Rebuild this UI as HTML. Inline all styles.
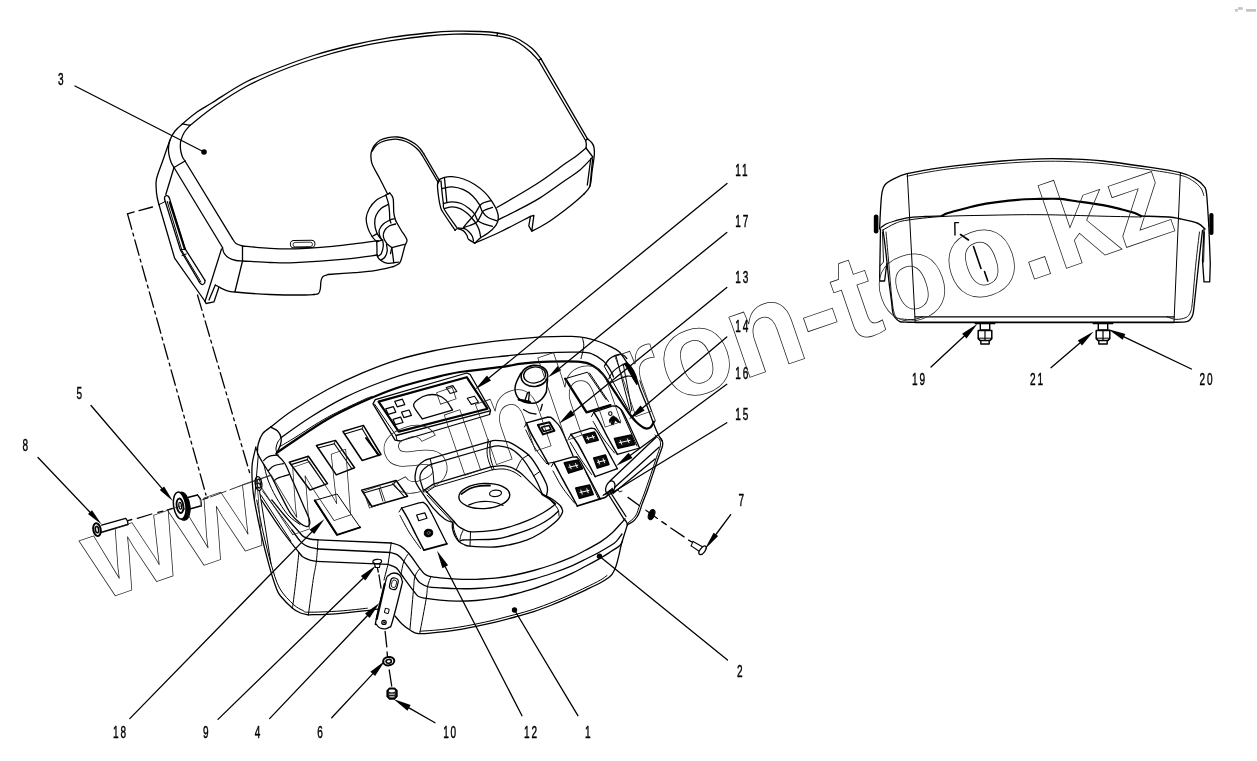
<!DOCTYPE html>
<html><head><meta charset="utf-8"><title>Parts diagram</title>
<style>
html,body{margin:0;padding:0;background:#fff;}
body{width:1257px;height:761px;overflow:hidden;position:relative;font-family:"Liberation Sans",sans-serif;}
svg{position:absolute;left:0;top:0;display:block;will-change:transform;}
svg path,svg ellipse,svg line,svg circle{stroke:#000;fill:none;stroke-linecap:round;stroke-linejoin:round;}
.lb{font-family:"Liberation Sans",sans-serif;font-size:16.2px;fill:#000;stroke:#000;stroke-width:0.45px;letter-spacing:2.9px;}
.wm{font-family:"Liberation Sans",sans-serif;font-weight:bold;fill:none;stroke:#222;stroke-width:0.75;}
</style></head><body>
<svg width="1257" height="761" viewBox="0 0 1257 761">
<path d="M182.5 123.8 C184.9 121.8 192 115.5 197 112 C202 108.5 204.5 107.4 212.5 102.5 C220.5 97.6 233.8 88.3 245 82.5 C256.2 76.7 268.3 72.1 280 67.5 C291.7 62.9 302.9 58.8 315 55 C327.1 51.2 340 47.9 352.5 45 C365 42.1 377.5 39.7 390 37.7 C402.5 35.7 416.7 34.1 427.5 33 C438.3 31.9 446.2 31.4 455 31.2 C463.8 30.9 472.9 31.2 480 31.5 C487.1 31.8 492.3 32.2 497.5 33 C502.7 33.8 507.2 34.8 511 36 C514.8 37.2 516.4 37.9 520 40 C523.6 42.1 529 45.7 532.5 48.8 C536 51.9 539.6 57.1 541 58.8" stroke-width="1.3" />
<path d="M541 58.8 L587.5 138.8" stroke-width="1.3" />
<path d="M587.5 138.8 C588.2 139.5 590.9 141.6 592 143 C593.1 144.4 593.6 145.5 594 147.5 C594.4 149.5 594.6 150.9 594.3 155 C594 159.1 592.7 166.8 592 172 C591.3 177.2 591.3 182.3 590 186 C588.7 189.7 585 192.7 584 194" stroke-width="1.3" />
<path d="M190 125.3 C194.2 122.1 205.5 112.5 215 106 C224.5 99.5 236.2 91.8 247 86 C257.8 80.2 268.7 75.6 280 71 C291.3 66.4 303 62.3 315 58.5 C327 54.7 339.5 51.2 352 48.2 C364.5 45.2 377.5 42.8 390 40.8 C402.5 38.8 416.2 37.1 427 36 C437.8 34.9 446.2 34.5 455 34.2 C463.8 33.9 473 34 480 34.3 C487 34.6 492 35.1 497 35.8 C502 36.5 506.3 37.4 510 38.6 C513.7 39.8 515.7 40.9 519 43 C522.3 45.1 526.8 48.6 530 51.5 C533.2 54.4 537.1 59 538.5 60.5" stroke-width="1.3" />
<path d="M538.5 60.5 L585.6 140.5" stroke-width="1.3" />
<path d="M585.6 140.5 C585.7 141.1 586.2 142.8 586.3 144 C586.4 145.2 586 147.3 586 148" stroke-width="1.3" />
<path d="M497.5 33 L497 35.8" stroke-width="1.3" />
<path d="M541 58.8 L538.5 60.5" stroke-width="1.3" />
<path d="M587.5 138.8 L585.6 140.5" stroke-width="1.3" />
<path d="M182.5 123.8 C181.2 125 177.1 128.3 175 131 C172.9 133.7 171.1 137.2 170 140 C168.9 142.8 168.7 145.5 168.5 148 C168.3 150.5 168.6 152.7 169 155 C169.4 157.3 170.2 159.9 171 162 C171.8 164.1 173.5 166.6 174 167.5" stroke-width="1.3" />
<path d="M190 125.3 C189.1 126.4 186 129.6 184.5 132 C183 134.4 181.7 137.7 181 140 C180.3 142.3 180.3 144 180.3 146 C180.3 148 180.6 150.2 181 152 C181.4 153.8 181.8 155.5 182.5 157 C183.2 158.5 184.6 160.3 185 161" stroke-width="1.3" />
<path d="M182.5 123.8 L190 125.3" stroke-width="1.3" />
<path d="M174 167.5 L185 161" stroke-width="1.3" />
<path d="M185 161 L232.5 238.8" stroke-width="1.3" />
<path d="M174 167.5 L222.5 247.5" stroke-width="1.3" />
<path d="M170 140 C168.8 143.3 165.2 153.5 163 160 C160.8 166.5 157.6 174 156.5 179 C155.4 184 156.2 186.8 156.3 190 C156.4 193.2 156.9 195.6 157.3 198 C157.8 200.4 158.7 203.6 159 204.7" stroke-width="1.3" />
<path d="M159 204.7 L174.6 258.1 L205.5 302" stroke-width="1.3" />
<path d="M174 167.5 L165.8 194.5" stroke-width="1.3" />
<path d="M159 204.7 L165 201.6" stroke-width="1.0" />
<path d="M221.5 249 L205 301.5" stroke-width="1.3" />
<path d="M205 301.5 L206 303.5 L214 301.8 L219 287" stroke-width="1.3" />
<path d="M215.3 285 L209 300" stroke-width="1.3" />
<path d="M232.5 238.8 C233.1 239.6 234.3 242.3 236 243.5 C237.7 244.7 241.4 245.6 242.5 246" stroke-width="1.3" />
<path d="M222.5 247.5 C222.8 248.4 222.9 251.2 224 253 C225.1 254.8 227 256.8 229 258 C231 259.2 233.8 260 236 260.5 C238.2 261 241.4 260.9 242.5 261" stroke-width="1.3" />
<path d="M242.5 246 L242.5 261 L235 291.5" stroke-width="1.3" />
<path d="M242.5 246 C247.1 246.4 261.2 247.8 270 248.3 C278.8 248.8 284.6 249.1 295 248.8 C305.4 248.5 321.7 247.2 332.5 246.3 C343.3 245.4 352.4 244.1 360 243.2 C367.6 242.2 375 241 378 240.6" stroke-width="1.3" />
<path d="M242.5 261 C247.1 261.2 261.2 262.2 270 262.5 C278.8 262.8 282.5 263.2 295 262.7 C307.5 262.1 331.2 260.5 345 259.2 C358.8 257.9 372.1 255.7 377.5 255" stroke-width="1.3" />
<path d="M215.3 285 C215.9 285.3 217.2 286.1 219 287 C220.8 287.9 223.3 289.5 226 290.3 C228.7 291.1 227.7 291.3 235 292 C242.3 292.7 258.3 294 270 294.5 C281.7 295 297.7 295 305 295 C312.3 295 312.5 294.6 314 294.5" stroke-width="1.3" />
<path d="M314 294.5 C314.8 294.3 317.4 294.4 318.5 293.5 C319.6 292.6 319.9 291.1 320.3 289 C320.7 286.9 320.6 283.1 321 281 C321.4 278.9 321.8 277.6 323 276.5 C324.2 275.4 327.2 274.8 328 274.5" stroke-width="1.3" />
<path d="M328 274.5 C332.5 274.2 347.2 273.2 355 272.6 C362.8 272 368.3 271.7 374.7 270.7 C381.1 269.7 390 267.4 393.1 266.7" stroke-width="1.3" />
<path d="M164.5 199 C164.6 198.6 164.5 197.4 164.8 196.8 C165.1 196.2 165.8 195.8 166.4 195.7 C167 195.6 167.8 195.9 168.3 196.3 C168.8 196.7 169.2 197.8 169.4 198.1" stroke-width="1.3" />
<path d="M164.5 199 L180.4 249.9 L199.3 281.9" stroke-width="1.3" />
<path d="M199.3 281.9 C199.6 282.2 200.4 283.6 201 284 C201.6 284.4 202.2 284.7 202.8 284.5 C203.4 284.3 204.2 283.7 204.6 283 C205 282.3 204.9 280.8 205 280.3" stroke-width="1.3" />
<path d="M205 280.3 L185.3 249.1 L169.4 198.1" stroke-width="1.3" />
<path d="M167.2 201.4 L182 250.7 L200.9 281.9" stroke-width="1.0" />
<path d="M169.7 202.2 L184.8 249.1" stroke-width="2.0" />
<path d="M180.4 249.9 L185.3 249.1" stroke-width="1.0" />
<path d="M182 255.5 L186.3 254" stroke-width="1.0" />
<rect x="290.3" y="240.3" width="24.7" height="7.4" rx="3.7" stroke="#000" fill="none" stroke-width="1" transform="rotate(-1 302 244)"/>
<rect x="293" y="242.3" width="19.5" height="4.4" rx="2.2" stroke="#000" fill="none" stroke-width="0.8" transform="rotate(-1 302 244)"/>
<path d="M387.5 193.8 C386.2 191.3 382.5 183.8 380 179 C377.5 174.2 374 168.5 372.5 165 C371 161.5 371.2 160.1 371 158 C370.8 155.9 370.7 154.5 371.2 152.5 C371.7 150.5 372.5 148 374 146 C375.5 144 377.7 141.7 380 140.3 C382.3 138.9 385.1 138.2 388 137.6 C390.9 137 394.3 136.7 397.5 137 C400.7 137.3 404.1 138.2 407 139.3 C409.9 140.4 412.8 142.3 415 143.8 C417.2 145.3 418.5 146.8 420 148.5 C421.5 150.2 423.2 152.9 423.8 153.8" stroke-width="1.3" />
<path d="M423.8 153.8 L440 181.5" stroke-width="1.3" />
<path d="M372.3 151 C372.9 150.1 374.5 147 376 145.5 C377.5 144 379.3 142.9 381.5 142 C383.7 141.1 386.3 140.2 389 139.8 C391.7 139.4 394.7 139 397.5 139.3 C400.3 139.6 403.3 140.4 406 141.5 C408.7 142.6 411.4 144.3 413.5 145.8 C415.6 147.3 417 148.7 418.5 150.3 C420 151.9 421.7 154.6 422.3 155.5" stroke-width="1.3" />
<path d="M422.3 155.5 L438.5 182.8" stroke-width="1.3" />
<path d="M439.5 179.5 C439.2 180.4 437.6 182.1 437.5 185 C437.4 187.9 438.1 193.3 438.6 197 C439.1 200.7 439.8 204.7 440.6 207.4 C441.4 210.1 441 209.2 443.4 213 C445.8 216.8 453.2 227.4 455.1 230.3" stroke-width="1.3" />
<path d="M441 181 C441.1 182.5 441.4 186.2 441.8 190 C442.2 193.8 442.9 200.2 443.4 203.5 C443.8 206.8 442.3 205.7 444.5 209.7 C446.7 213.7 454.8 224.5 456.8 227.5" stroke-width="1.3" />
<path d="M439.5 179.5 C440.3 179.1 442.4 177.8 444.5 177.3 C446.6 176.8 449.1 176.4 452.3 176.7 C455.5 177 459.8 177.7 463.5 179 C467.2 180.3 471.2 182.3 474.7 184.5 C478.2 186.7 481.9 189.7 484.7 192.4 C487.5 195.1 489.3 197.6 491.4 200.7 C493.4 203.8 495.9 207.8 497 210.8 C498.1 213.8 498.5 216.2 498.3 218.6 C498.1 221 497.6 222.9 495.9 225.3 C494.2 227.7 490.6 231.1 488.1 233.1 C485.6 235.1 483 235.9 480.8 237.6 C478.6 239.3 475.7 242.3 474.7 243.2" stroke-width="1.3" />
<path d="M442.3 188.5 C444 188.2 448.8 186.6 452.3 186.8 C455.8 187 460.1 188.1 463.5 189.6 C466.9 191.1 469.8 193.3 472.4 195.7 C475 198.1 477.4 201.4 479.1 204.1 C480.8 206.8 481 209.7 482.5 211.9 C484 214.1 485.7 216 488.1 217.5 C490.5 219 495.5 220.2 497 220.8" stroke-width="1.3" />
<path d="M443.4 203.5 C444.9 203.2 449.3 201.9 452.3 201.9 C455.3 201.9 458.5 202.4 461.3 203.5 C464.1 204.6 466.9 206.8 469.1 208.6 C471.3 210.4 473.2 212.1 474.7 214.1 C476.2 216.1 476.3 219.1 478 220.8 C479.7 222.5 482.3 223.3 484.7 224.2 C487.1 225.1 491.2 226 492.5 226.4" stroke-width="1.3" />
<path d="M444.5 208.6 C445.8 208.3 449.7 206.9 452.3 206.9 C454.9 206.9 457.8 207.6 460.2 208.6 C462.6 209.6 465 211.5 466.9 213 C468.8 214.5 469.8 215.8 471.3 217.5 C472.8 219.2 474.5 221 475.8 223.1 C477.1 225.2 478.3 227.4 479.1 229.8 C479.9 232.2 480.5 236.3 480.8 237.6" stroke-width="1.3" />
<path d="M444.5 178.4 L446.8 201.9" stroke-width="1.3" />
<path d="M491 200.7 C489.4 201.3 484.1 201.9 481.4 204.1 C478.7 206.3 477.1 210.9 474.7 214.1 C472.3 217.3 468.8 220.9 466.9 223.1 C465 225.3 464.1 226.8 463.5 227.5" stroke-width="1.3" />
<path d="M492.5 207.4 C491 208 485.6 209.3 483.6 210.8 C481.6 212.3 481.4 214.6 480.3 216.4 C479.2 218.2 478.6 220.4 476.9 221.9 C475.2 223.4 472.2 224.6 470 225.5 C467.8 226.4 464.6 227.2 463.5 227.5" stroke-width="1.3" />
<path d="M455.1 230.3 C455.5 230 456 228.5 457.4 228.6 C458.8 228.7 461.9 229.8 463.5 230.9 C465.1 232 466.1 233.9 466.9 235.3 C467.7 236.7 467.2 238 468.5 239.3 C469.8 240.6 473.7 242.5 474.7 243.2" stroke-width="1.3" />
<path d="M458 228 C459.1 228.1 462.8 228 464.6 228.7 C466.5 229.4 467.8 230.7 469.1 232 C470.4 233.3 471.7 235 472.4 236.5 C473.1 238 473.3 240.2 473.5 241" stroke-width="1.3" />
<path d="M387.5 193.8 L389.8 193.1" stroke-width="1.3" />
<path d="M389.8 193.1 C390.4 194 392.4 195.1 393.1 198.4 C393.8 201.7 393.4 209.2 393.8 212.9 C394.2 216.6 395.4 219.4 395.7 220.7" stroke-width="1.3" />
<path d="M395.7 220.7 C396.6 222.2 399.1 226.8 401 230 C402.9 233.2 406.2 237.2 406.9 239.8 C407.5 242.4 405.9 242.3 404.9 245.7 C403.9 249.1 402.1 257.1 401 260.2 C399.9 263.3 399.7 263 398.4 264.1 C397.1 265.2 394 266.3 393.1 266.7" stroke-width="1.3" />
<path d="M385.9 195.1 C386.3 196.5 387.9 200.9 388.5 203.7 C389.1 206.5 389.3 209.4 389.5 212 C389.7 214.6 389.6 217.6 389.8 219.4 C390.1 221.2 390.8 222.4 391 223" stroke-width="1.3" />
<path d="M389.8 193.1 C389.1 193.4 388.2 193.9 385.9 195.1 C383.6 196.3 378.7 198.2 376 200.4 C373.3 202.6 371.1 205.4 369.5 208.3 C367.9 211.2 366.4 214.7 366.2 218.1 C366 221.5 367.1 225.5 368.1 228.6 C369.1 231.7 370.7 234.3 372.1 236.5 C373.5 238.7 375.9 240.9 376.7 241.8" stroke-width="1.3" />
<path d="M388.5 204.3 C387.3 205 383.4 206.4 381.3 208.3 C379.2 210.2 377.1 213 376 215.5 C374.9 218 374.6 220.6 374.7 223.4 C374.8 226.2 375.8 230.2 376.7 232.6 C377.6 235 379 236.5 380 237.8 C381 239.1 382.2 240 382.6 240.4" stroke-width="1.3" />
<path d="M394.4 218.8 C393.6 219 391.6 219.2 389.8 220.1 C388 221 385.1 222.4 383.3 224 C381.6 225.6 379.9 228.1 379.3 229.9 C378.7 231.7 379.2 233.5 379.5 235 C379.8 236.5 381 238.4 381.3 239.1" stroke-width="1.3" />
<path d="M395.7 224 C394.6 224.3 391 224.9 389.2 226 C387.4 227.1 385.6 228.8 384.6 230.6 C383.6 232.3 383 234.4 383.3 236.5 C383.6 238.6 385.1 241.2 386.5 243.1 C387.9 245 390.9 246.9 391.8 247.7" stroke-width="1.3" />
<path d="M391.8 247.7 L404.3 244.4" stroke-width="1.3" />
<path d="M391.8 247.7 L393.8 262.8" stroke-width="1.3" />
<path d="M372.1 236.5 L376.7 233.9" stroke-width="1.3" />
<path d="M376.7 241.8 L382.6 239.8" stroke-width="1.3" />
<path d="M376.7 241.8 C376.8 243 376.9 246.6 377 249 C377.1 251.4 376.6 254.2 377.3 256.2 C378 258.2 379.5 259.6 381.3 260.8 C383.1 262 385 263.2 387.9 263.4 C390.8 263.6 396.6 262.3 398.4 262.1" stroke-width="1.3" />
<path d="M382.6 240.4 C382.7 241.3 383.5 243.5 383.3 245.7 C383.1 247.9 382.2 251.8 381.3 253.6 C380.4 255.3 378.6 255.8 378 256.2" stroke-width="1.3" />
<path d="M386.5 244.4 C386.6 245.5 387.5 248.8 387.2 251 C386.9 253.2 385.7 256 384.6 257.5 C383.5 259 381.3 259.8 380.6 260.2" stroke-width="1.3" />
<path d="M391.8 247.7 L390.5 253.6" stroke-width="1.3" />
<path d="M378 240.6 L377 241.3" stroke-width="1.3" />
<path d="M586 148 C584.2 149.5 578.5 154.4 575 157 C571.5 159.6 570.8 159.7 565 163.8 C559.2 167.9 548.3 176.2 540 181.7 C531.7 187.2 522.2 192.7 515 197 C507.8 201.3 500 205.7 497 207.4" stroke-width="1.3" />
<path d="M592.8 157 C590.7 159.2 584.6 166.1 580 170 C575.4 173.9 571.7 175.8 565 180.5 C558.3 185.2 548.3 192.7 540 197.9 C531.7 203.1 522 207.9 515 211.5 C508.1 215.1 501.1 218.3 498.3 219.7" stroke-width="1.3" />
<path d="M474.7 243.2 C478.9 241.3 490.7 236.5 500 232 C509.3 227.5 525.4 219 530.5 216.4" stroke-width="1.3" />
<path d="M530.5 216.4 L533.9 215.3 L531.8 231.1 L528.8 225.9 Z" stroke-width="1.3" />
<path d="M531.8 231.1 C533.2 230.4 537 228.7 540 227 C543 225.3 545.8 223.8 550 221 C554.2 218.2 560.8 213.2 565 210 C569.2 206.8 571.8 204.7 575 202 C578.2 199.3 582.5 195.3 584 194" stroke-width="1.3" />
<path d="M590.8 158.5 L587.3 185" stroke-width="1.3" />
<path d="M592.6 159 L590 186" stroke-width="1.3" />
<path d="M586 148 L592.8 157" stroke-width="1.3" />
<path d="M75 86 L204 152" stroke-width="1.3" />
<circle cx="204" cy="152" r="2.8" fill="#000" stroke="none" style="fill:#000;stroke:none"/>
<path d="M152.5 207 L127.5 213.8" stroke-width="1.3" stroke-dasharray="14 5"/>
<path d="M127.5 213.8 L206 495" stroke-width="1.3" stroke-dasharray="16 4 3 4"/>
<path d="M197.5 295 L250 474" stroke-width="1.3" stroke-dasharray="16 4 3 4"/>
<path d="M879.6 229 C879.8 225.8 880.1 216.1 880.5 210 C880.9 203.9 881.2 196.8 882 192.6 C882.8 188.4 882.9 187.1 885 184.7 C887.1 182.3 891 180.2 894.7 178.4 C898.4 176.6 901.1 175.2 907 173.7 C912.9 172.2 922.1 170.6 930 169.3 C937.9 168 942.6 167.2 954.6 165.8 C966.6 164.4 987.8 162.2 1002 161 C1016.2 159.8 1028.7 159.1 1040 158.8 C1051.3 158.5 1059.5 158.6 1070 159 C1080.5 159.4 1089.6 159.6 1103 161 C1116.4 162.4 1137.5 165.5 1150.4 167.4 C1163.3 169.3 1173 170.9 1180.4 172.7 C1187.8 174.5 1190.7 176.1 1194.6 178.4 C1198.5 180.7 1202 183.7 1204 186.3 C1206 188.9 1205.8 187.6 1206.6 194.2 C1207.4 200.8 1208.4 220.4 1208.8 225.7" stroke-width="1.3" />
<path d="M907 176.2 C910.8 175.5 922.1 173.1 930 171.8 C937.9 170.5 942.6 169.6 954.6 168.2 C966.6 166.8 987.8 164.6 1002 163.5 C1016.2 162.4 1028.7 161.7 1040 161.4 C1051.3 161.1 1059.5 161.2 1070 161.6 C1080.5 162 1089.6 162.2 1103 163.6 C1116.4 165 1137.5 168 1150.4 169.9 C1163.3 171.8 1173.4 173.4 1180.4 175.2 C1187.4 177 1189.1 178.5 1192.5 180.6 C1195.9 182.7 1198.9 185.5 1200.8 188 C1202.7 190.5 1203.3 194.2 1203.8 195.5" stroke-width="0.9" />
<path d="M1208.8 225.7 L1210.3 263.6 L1209.7 281.9 L1204 281.9 L1202.5 260.4 L1204 229" stroke-width="1.3" />
<path d="M907.3 173.7 L915.2 322.5" stroke-width="1.0" />
<path d="M1180.4 172.7 L1174 322.5" stroke-width="1.0" />
<path d="M881 227.5 C881.8 226.9 883.7 225.1 886 224 C888.3 222.9 891.2 222 894.7 221 C898.2 220 902 218.6 907 217.8 C912 217.1 919.2 216.8 925 216.5 C930.8 216.2 939.2 215.9 942 215.8" stroke-width="1.3" />
<path d="M942 215.8 C943 215.3 944.2 214.2 948 213 C951.8 211.8 958.7 210.1 965 208.5 C971.3 206.9 977.2 205 986 203.6 C994.8 202.2 1008.7 200.6 1017.7 199.8 C1026.7 199 1033 199.1 1040 198.9 C1047 198.8 1054.8 198.6 1060 198.9 C1065.2 199.2 1064.3 199.4 1071.5 200.5 C1078.7 201.6 1094.6 203.7 1103 205.2 C1111.4 206.7 1116.7 208.2 1122 209.5 C1127.3 210.8 1131.4 211.9 1134.6 213 C1137.8 214.1 1139.9 215.5 1141 216" stroke-width="2.2" />
<path d="M1141 216 C1145.7 216.2 1162.5 216.5 1169 217 C1175.5 217.5 1175.2 217.8 1180 218.8 C1184.8 219.8 1193.5 221.5 1197.7 223.2 C1201.9 224.9 1203.8 228 1205 229" stroke-width="1.5" />
<path d="M883 230 C885 228.9 891 225.1 895 223.5 C899 221.9 899.2 221.4 907 220.2 C914.8 219 928.8 217.3 942 216.5 C955.2 215.7 969.7 215.6 986 215.3 C1002.3 215 1020.5 214.5 1040 214.7 C1059.5 214.8 1086.2 215.8 1103 216.2 C1119.8 216.6 1134.7 216.9 1141 217" stroke-width="1.0" />
<rect x="873.8" y="214.5" width="4.6" height="19" rx="2.2" style="fill:#000;stroke:none"/>
<rect x="1209.3" y="213" width="4.2" height="22" rx="2" style="fill:#000;stroke:none"/>
<path d="M883 230 C883.3 232.5 884.4 239.9 885 245 C885.6 250.1 886.1 254.2 886.8 260.4 C887.5 266.6 888.2 275.2 889 282 C889.8 288.8 890.9 296.5 891.5 301.4 C892.1 306.3 892.2 309.1 892.6 311.5 C893 313.9 893.4 314.8 894 316 C894.6 317.2 895.5 318.1 896.3 318.9 C897 319.7 897.6 320.3 898.5 320.8 C899.4 321.3 899.9 321.8 901.5 322 C903.1 322.2 905.8 322.2 908 322.3 C910.2 322.4 913.8 322.3 915 322.3" stroke-width="1.3" />
<path d="M915 322.3 L1174 322.3" stroke-width="1.7" />
<path d="M915 316.8 L1174.3 316.8" stroke-width="1.3" />
<path d="M1174 322.3 C1176.1 322.2 1184 322.2 1186.7 321.6 C1189.5 321.1 1189.5 320.3 1190.5 319 C1191.5 317.7 1192.3 316.9 1193 314 C1193.7 311.1 1193.6 310.3 1194.6 301.4 C1195.6 292.5 1197.7 272.2 1199 260.4 C1200.3 248.6 1201.9 235.4 1202.5 230.4" stroke-width="1.3" />
<path d="M886 232 C886.4 236.7 887.5 248.7 888.5 260 C889.5 271.3 890.9 290.7 892 300 C893.1 309.3 893.6 312.6 895.2 315.7 C896.8 318.8 898.4 318.3 901.5 318.9 C904.6 319.5 910.5 319.8 914 319.4 C917.5 319 921.1 317.2 922.5 316.8" stroke-width="0.9" />
<path d="M1199.5 232 C1198.9 237 1197.2 250.5 1196 262 C1194.8 273.5 1193.4 292.7 1192.5 301 C1191.6 309.3 1191.6 309.2 1190.5 312 C1189.4 314.8 1188.4 316.3 1186 317.5 C1183.6 318.7 1179.2 319.5 1176 319.4 C1172.8 319.3 1168.5 317.2 1167 316.8" stroke-width="0.9" />
<path d="M880.5 229 L879.6 281 L884.6 281 L886.8 263.6" stroke-width="1.3" />
<path d="M882.5 232 L883.5 262 L880 266" stroke-width="0.9" />
<path d="M1204.5 232 L1203.6 262" stroke-width="0.9" />
<path d="M955 235 L954.8 222.6 L958.5 222.6" stroke-width="1.4" />
<path d="M960.5 234.5 L968.5 240" stroke-width="1.6" />
<path d="M973.5 246.5 L981 268.5" stroke-width="1.6" />
<path d="M984.5 271.5 L987.8 281" stroke-width="1.6" />
<path d="M975.5 323.4 L994.5 323.4" stroke-width="1.8" />
<path d="M980.3 324 L980.3 330 L989.7 330 L989.7 324" stroke-width="1.4" />
<path d="M978.2 330.4 L991.8 330.4 L991.8 338.6 L990 340.4 L980 340.4 L978.2 338.6 Z" stroke-width="1.5" />
<path d="M985 330.4 L985 340" stroke-width="1.2" />
<path d="M978.2 338.2 L991.8 338.2" stroke-width="1.0" />
<path d="M980.8 340.6 L980.8 344 L989.2 344 L989.2 340.6" stroke-width="1.4" />
<path d="M1093.5 323.4 L1112.5 323.4" stroke-width="1.8" />
<path d="M1098.3 324 L1098.3 330 L1107.7 330 L1107.7 324" stroke-width="1.4" />
<path d="M1096.2 330.4 L1109.8 330.4 L1109.8 338.6 L1108 340.4 L1098 340.4 L1096.2 338.6 Z" stroke-width="1.5" />
<path d="M1103 330.4 L1103 340" stroke-width="1.2" />
<path d="M1096.2 338.2 L1109.8 338.2" stroke-width="1.0" />
<path d="M1098.8 340.6 L1098.8 344 L1107.2 344 L1107.2 340.6" stroke-width="1.4" />
<path d="M931 367 L964.3 336.1" stroke-width="1.3" />
<path d="M977.5 323.8 L966.5 338.4 L962.1 333.7 Z" style="fill:#000;stroke:none"/>
<path d="M1051 367.7 L1079.9 343.1" stroke-width="1.3" />
<path d="M1093.6 331.4 L1082 345.5 L1077.8 340.6 Z" style="fill:#000;stroke:none"/>
<path d="M1191.4 369 L1124 336.8" stroke-width="1.3" />
<path d="M1107.8 329 L1125.4 333.9 L1122.7 339.7 Z" style="fill:#000;stroke:none"/>
<text x="0" y="0" transform="translate(58 85) scale(0.62 1)" class="lb">3</text>
<text x="0" y="0" transform="translate(735.3 176) scale(0.62 1)" class="lb">11</text>
<text x="0" y="0" transform="translate(735.3 227) scale(0.62 1)" class="lb">17</text>
<text x="0" y="0" transform="translate(735.3 282.5) scale(0.62 1)" class="lb">13</text>
<text x="0" y="0" transform="translate(735.3 332) scale(0.62 1)" class="lb">14</text>
<text x="0" y="0" transform="translate(735.3 379) scale(0.62 1)" class="lb">16</text>
<text x="0" y="0" transform="translate(735.3 420) scale(0.62 1)" class="lb">15</text>
<text x="0" y="0" transform="translate(738.5 506) scale(0.62 1)" class="lb">7</text>
<text x="0" y="0" transform="translate(737 677) scale(0.62 1)" class="lb">2</text>
<text x="0" y="0" transform="translate(912 384.5) scale(0.62 1)" class="lb">19</text>
<text x="0" y="0" transform="translate(1030 384.5) scale(0.62 1)" class="lb">21</text>
<text x="0" y="0" transform="translate(1199.5 384.5) scale(0.62 1)" class="lb">20</text>
<text x="0" y="0" transform="translate(76.5 398.5) scale(0.62 1)" class="lb">5</text>
<text x="0" y="0" transform="translate(22.5 450.5) scale(0.62 1)" class="lb">8</text>
<text x="0" y="0" transform="translate(113 737.9) scale(0.62 1)" class="lb">18</text>
<text x="0" y="0" transform="translate(203 737.9) scale(0.62 1)" class="lb">9</text>
<text x="0" y="0" transform="translate(254.7 737.9) scale(0.62 1)" class="lb">4</text>
<text x="0" y="0" transform="translate(317.3 737.9) scale(0.62 1)" class="lb">6</text>
<text x="0" y="0" transform="translate(443.2 737.9) scale(0.62 1)" class="lb">10</text>
<text x="0" y="0" transform="translate(524 737.9) scale(0.62 1)" class="lb">12</text>
<text x="0" y="0" transform="translate(585 737.9) scale(0.62 1)" class="lb">1</text>
<path d="M727 183.4 L488.9 378.1" stroke-width="1.3" />
<path d="M475 389.5 L486.9 375.6 L491 380.6 Z" style="fill:#000;stroke:none"/>
<path d="M726.8 232.5 L559.5 368.2" stroke-width="1.3" />
<path d="M547.8 377.6 L557.7 366 L561.2 370.3 Z" style="fill:#000;stroke:none"/>
<path d="M726.8 287.5 L572.8 412.5" stroke-width="1.3" />
<path d="M558.8 423.8 L570.8 410 L574.8 414.9 Z" style="fill:#000;stroke:none"/>
<path d="M726.8 337 L642.6 407.9" stroke-width="1.3" />
<path d="M628.8 419.5 L640.5 405.5 L644.6 410.4 Z" style="fill:#000;stroke:none"/>
<path d="M726.8 384.3 L630.5 455.3" stroke-width="1.3" />
<path d="M616 466 L628.6 452.7 L632.4 457.9 Z" style="fill:#000;stroke:none"/>
<path d="M726.8 422.7 L612.5 492.5" stroke-width="1.3" />
<path d="M730.7 514.6 L715.9 534.5" stroke-width="1.3" />
<path d="M704.5 549.7 L713.6 532.8 L718.1 536.1 Z" style="fill:#000;stroke:none"/>
<path d="M599.5 556.2 L727.5 660" stroke-width="1.3" />
<circle cx="599.5" cy="556.2" r="2.7" style="fill:#000;stroke:none"/>
<path d="M514.5 610 L577.9 715.7" stroke-width="1.3" />
<circle cx="514.5" cy="610" r="2.7" style="fill:#000;stroke:none"/>
<path d="M522 715.7 L445.2 566.7" stroke-width="1.3" />
<path d="M437 550.7 L448.1 565.2 L442.4 568.2 Z" style="fill:#000;stroke:none"/>
<path d="M435 722.7 L409 707.9" stroke-width="1.3" />
<path d="M393.4 699 L410.6 705.1 L407.5 710.7 Z" style="fill:#000;stroke:none"/>
<path d="M331.7 717.8 L372.7 673.9" stroke-width="1.3" />
<path d="M385 660.7 L375.1 676 L370.4 671.7 Z" style="fill:#000;stroke:none"/>
<path d="M269.6 718.6 L367.3 615.8" stroke-width="1.3" />
<path d="M379.7 602.7 L369.6 618 L365 613.5 Z" style="fill:#000;stroke:none"/>
<path d="M218 719.4 L363.1 578.2" stroke-width="1.3" />
<path d="M376 565.6 L365.3 580.4 L360.9 575.9 Z" style="fill:#000;stroke:none"/>
<path d="M129.8 718.6 L311.9 531.9" stroke-width="1.3" />
<path d="M324.5 519 L314.2 534.1 L309.6 529.7 Z" style="fill:#000;stroke:none"/>
<path d="M91 405.5 L161.9 488.3" stroke-width="1.3" />
<path d="M173 501.2 L159.8 490.1 L164.1 486.5 Z" style="fill:#000;stroke:none"/>
<path d="M38 457.5 L90 512.2" stroke-width="1.3" />
<path d="M101.7 524.5 L88 514.1 L92 510.3 Z" style="fill:#000;stroke:none"/>
<ellipse cx="97" cy="529.6" rx="3.7" ry="6.5" transform="rotate(-10 97 529.6)" stroke-width="2.0" fill="none" />
<ellipse cx="97" cy="529.6" rx="1.6" ry="3.2" transform="rotate(-10 97 529.6)" stroke-width="1.6" fill="none" />
<path d="M101.7 525.1 L125.6 518.4" stroke-width="1.5" />
<path d="M101.7 532.3 L127.9 524.5" stroke-width="1.5" />
<path d="M125.6 518.4 C125.9 518.8 127.1 520 127.5 521 C127.9 522 127.8 523.9 127.9 524.5" stroke-width="1.3" />
<path d="M127.9 520.6 L131.8 519.5" stroke-width="1.3" />
<path d="M137.3 518.4 L151.8 514" stroke-width="1.3" />
<path d="M157.9 512.3 L163 511.2" stroke-width="1.3" />
<path d="M167 510 L172.5 508.3" stroke-width="1.3" />
<ellipse cx="182.8" cy="506.2" rx="7.2" ry="14.2" transform="rotate(-8 182.8 506.2)" style="fill:#000;stroke:#000;stroke-width:1"/>
<ellipse cx="179.7" cy="505.6" rx="6.1" ry="13.6" transform="rotate(-8 179.7 505.6)" style="fill:#fff;stroke:#000;stroke-width:1.5"/>
<ellipse cx="180" cy="505.8" rx="3.3" ry="7.3" transform="rotate(-8 180 505.8)" stroke-width="1.9" fill="none" />
<ellipse cx="180.2" cy="505.8" rx="1.3" ry="3.4" transform="rotate(-8 180.2 505.8)" stroke-width="1.2" fill="none" />
<path d="M188.6 497.3 L197.5 495" stroke-width="1.4" />
<path d="M189.7 509 L201.4 505.8" stroke-width="1.4" />
<path d="M197.5 495 C198 495.8 199.9 497.7 200.6 499.5 C201.2 501.3 201.3 504.8 201.4 505.8" stroke-width="1.3" />
<path d="M199.3 497.5 L201 501 L201.4 505.8 L200.3 506.1 L199.8 501.5 Z" style="fill:#777;stroke:none"/>
<path d="M203 499.5 L208 497.6" stroke-width="1.3" />
<ellipse cx="377.2" cy="561.5" rx="4.4" ry="2.2" transform="rotate(-5 377.2 561.5)" stroke-width="1.2" fill="none" />
<path d="M374.2 563 L375.5 567.5 L379.5 567.5 L380.3 563" stroke-width="1.1" />
<path d="M377.5 568.5 L378.3 572" stroke-width="1.3" />
<path d="M379 575 L381 588" stroke-width="1.3" />
<path d="M394 573 C395.9 573 398.4 574 399.8 575.3 C401.2 576.6 401.9 579.2 402.2 581 C402.5 582.8 403.2 579 401.5 586 C399.8 593 394 616 392 622.8 C390 629.6 390.6 626 389.5 627 C388.4 628 387.2 628.6 385.6 628.8 C384 629 381.5 628.7 380 628 C378.5 627.3 377.2 625.8 376.5 624.5 C375.8 623.2 374.5 627.7 376 620.5 C377.5 613.3 383.5 588.9 385.6 581.4 C387.7 573.9 387.1 576.9 388.5 575.5 C389.9 574.1 392.1 573 394 573 Z" stroke-width="1.3" />
<path d="M384.7 584 L376.7 619" stroke-width="2.2" />
<rect x="390" y="578" width="7.6" height="11.6" rx="3.4" transform="rotate(14 394 584)" style="fill:none;stroke:#000;stroke-width:1.2"/>
<rect x="391.6" y="580" width="4.6" height="7.6" rx="2.2" transform="rotate(14 394 584)" style="fill:none;stroke:#000;stroke-width:0.8"/>
<rect x="384.8" y="608.6" width="4" height="4.6" rx="0.8" transform="rotate(14 386.8 611)" style="fill:none;stroke:#000;stroke-width:1"/>
<ellipse cx="384" cy="622.4" rx="2.2" ry="2" transform="rotate(0 384 622.4)" stroke-width="1.2" fill="none" />
<ellipse cx="384" cy="622.4" rx="0.8" ry="0.8" transform="rotate(0 384 622.4)" stroke-width="1" fill="none" />
<path d="M385.1 631.5 L386.8 646.9" stroke-width="1.3" />
<path d="M387.1 652 L387.4 656.5" stroke-width="1.3" />
<ellipse cx="388.7" cy="661.2" rx="5.6" ry="4.2" transform="rotate(-8 388.7 661.2)" stroke-width="2.0" fill="none" />
<ellipse cx="388.7" cy="661.3" rx="2.7" ry="1.9" transform="rotate(-8 388.7 661.3)" stroke-width="1.6" fill="none" />
<path d="M389.2 669.9 L391.7 686" stroke-width="1.3" />
<path d="M387.2 690.8 L389.5 688.3 L394.5 688.2 L396.9 690.6 L396.9 696.4 L394.3 698.9 L389.6 698.9 L387.2 696.5 Z" style="fill:#222;stroke:#000;stroke-width:1.6"/>
<ellipse cx="392" cy="690.9" rx="3.1" ry="1.3" style="fill:#fff;stroke:none"/>
<path d="M389.6 694.2 L394.4 694.2 M390 696.8 L394 696.8" style="stroke:#fff;stroke-width:0.9;fill:none"/>
<ellipse cx="651.6" cy="514.6" rx="2.9" ry="5.4" transform="rotate(22 651.6 514.6)" stroke-width="1.0" fill="#000" style="fill:#000"/>
<path d="M645.9 510.2 L657.4 518.4" stroke-width="1.2" />
<path d="M661.8 521.6 L666.3 524.6" stroke-width="1.3" />
<path d="M670.8 528 L684.1 536.9" stroke-width="1.3" />
<path d="M688.6 540.1 L691.8 542" stroke-width="1.3" />
<path d="M628 497.4 L639.5 505.7" stroke-width="1.3" />
<path d="M693 541.4 L702 546.5" stroke-width="1.1" />
<path d="M691.2 545.9 L698.8 551" stroke-width="1.1" />
<path d="M693 541.4 L691.2 545.9" stroke-width="1.1" />
<ellipse cx="702.6" cy="550.3" rx="2.4" ry="5" transform="rotate(38 702.6 550.3)" stroke-width="1.3" fill="none" />
<rect x="1238" y="7.2" width="4.8" height="2.6" style="fill:#c4c4c4;stroke:none"/>
<rect x="1235" y="9" width="2.8" height="2.7" style="fill:#c4c4c4;stroke:none"/>
<rect x="1246" y="9" width="10" height="2.7" style="fill:#c4c4c4;stroke:none"/>
<path d="M270.6 427.1 C274.2 424.3 283 416.8 292.5 410.5 C302 404.2 315.8 395.8 327.5 389.5 C339.2 383.2 350.8 377.8 362.5 372.9 C374.2 367.9 385.8 363.4 397.5 359.8 C409.2 356.2 422.1 353.3 432.5 351 C442.9 348.7 448.8 347.8 460 346.1 C471.2 344.4 486.2 342.2 500 340.7 C513.8 339.2 531.1 337.6 543 336.9 C554.9 336.2 564.5 336.2 571.6 336.4 C578.8 336.6 581.4 337 585.9 337.9 C590.4 338.8 594.9 340.2 598.7 341.5 C602.6 342.8 605.6 344.1 609 345.8 C612.4 347.5 615.9 348.8 618.9 351.6 C621.9 354.4 625.5 360.6 626.8 362.4" stroke-width="1.3" />
<path d="M281.1 437.6 C285.9 434.2 299.4 424.2 310 417.5 C320.6 410.8 333.3 403.2 345 397.4 C356.7 391.6 368.3 386.9 380 382.5 C391.7 378.1 401.7 374.6 415 371.1 C428.3 367.6 445.8 363.9 460 361.5 C474.2 359.1 486.2 357.9 500 356.5 C513.8 355.1 529.6 353.6 543 352.9 C556.4 352.2 571.9 352 580.2 352.2 C588.5 352.4 589.2 352.9 593 354.3 C596.8 355.7 600.2 358.2 603.1 360.8 C606 363.4 608.6 367.4 610.3 370.1 C612 372.8 613 375.9 613.5 377" stroke-width="1.3" />
<path d="M276.8 452.8 C279.4 451 284.1 447.6 292.5 442 C300.9 436.4 315.8 425.9 327.5 419.2 C339.2 412.5 350.8 407 362.5 401.8 C374.2 396.6 385.8 391.8 397.5 387.8 C409.2 383.9 422.1 380.7 432.5 378.1 C442.9 375.5 448.8 373.8 460 372 C471.2 370.2 489.8 368.6 500 367.2 C510.2 365.8 514.3 364.6 521.5 363.7 C528.7 362.8 533.2 362.1 543 361.8 C552.8 361.5 571.9 361.1 580.2 361.8 C588.5 362.5 589.2 363.7 593 365.8 C596.8 367.9 599.5 370.1 603.1 374.4 C606.7 378.7 610.3 385.2 614.6 391.6 C618.9 398 625.3 408 628.9 413 C632.5 418 633.4 419.2 636 421.7 C638.6 424.2 642.2 427.2 644.6 428.1 C647 429.1 648.8 428.5 650.4 427.4 C652 426.3 653.4 422.6 654 421.7" stroke-width="2.2" />
<path d="M280 446.5 C282.5 445 287.1 442.4 295 437.5 C302.9 432.6 316.2 423.5 327.5 417.3 C338.8 411.1 355.1 403.8 362.5 400.3 C369.9 396.8 370.4 397.1 372 396.5" stroke-width="1.0" />
<path d="M270.6 427.1 C269.2 428.2 264.6 431 262.5 433.8 C260.4 436.6 259 440.8 258.2 444 C257.4 447.2 257.5 451.2 257.5 453 C257.5 454.8 258.2 454.7 258.3 455" stroke-width="1.3" />
<path d="M270.6 427.1 C271.8 427.8 275.9 429.2 277.6 431 C279.4 432.8 280.6 435.3 281.1 437.6 C281.6 439.9 281.1 442.5 280.4 445 C279.7 447.5 277.4 451.5 276.8 452.8" stroke-width="1.3" />
<path d="M281.1 437.6 C280.6 438.3 278.7 440.3 277.8 442 C276.9 443.7 276.2 446.2 276 448 C275.8 449.8 276.7 452 276.8 452.8" stroke-width="1.0" />
<path d="M582.3 337.5 C582.5 338.9 584 342.3 583.8 345.8 C583.6 349.3 581.5 356.5 581 358.6" stroke-width="1.0" />
<path d="M604.5 366 C605 365.2 606.3 362.4 607.5 361 C608.7 359.6 609.8 358.4 611.7 357.3 C613.6 356.2 616.9 354.8 618.9 354.5 C620.9 354.2 622.7 354.8 624 355.5 C625.3 356.2 626.3 358 626.8 358.5" stroke-width="1.3" />
<path d="M608.8 379 C609.2 378.1 610.3 375.2 611.5 373.5 C612.7 371.8 614 370.4 616 368.9 C618 367.4 621 365.2 623.2 364.6 C625.4 364 628 365.2 629 365.3" stroke-width="1.1" />
<path d="M610.2 383.4 C611.7 382.7 616 380.2 618.9 379 C621.8 377.8 625.2 376.5 627.6 376.1 C630 375.7 632.4 376.7 633.4 376.8" stroke-width="1.1" />
<path d="M626.8 362.4 L630.5 366 L633.4 370.3 L636 376 L637.7 381.9 L636.8 384.5 L633 378.5 L629.5 372 L626.5 367 L624.5 363.8 Z" style="fill:#000;stroke:#000;stroke-width:1.1;stroke-linejoin:round"/>
<path d="M637.7 381.9 C638.2 383.3 638.9 386.3 640.6 390.6 C642.3 394.9 645.6 402.4 647.8 407.9 C650 413.4 651.9 419.5 653.6 423.8 C655.3 428.1 656.5 431 657.9 433.9 C659.3 436.8 661.6 440 662.3 441.2" stroke-width="1.3" />
<path d="M639.9 380.5 C640.4 382.1 641.3 385.6 643 390 C644.7 394.4 647.9 401.8 650 407 C652.1 412.2 654.6 418.7 655.5 421" stroke-width="0.9" />
<path d="M616 355.9 L630.5 412.3" stroke-width="1.0" />
<path d="M623.2 363.8 L631.9 410.8" stroke-width="1.0" />
<path d="M604.5 366.7 L628.3 409.4" stroke-width="1.0" />
<path d="M660.5 438 C660.8 438.5 662 439.9 662.3 441.2 C662.6 442.5 663.1 443.1 662.5 445.8 C661.9 448.5 659.9 453.3 658.5 457.3 C657.1 461.3 656 464.6 654.2 470 C652.4 475.4 649.5 484.3 647.5 490 C645.5 495.7 643.3 500.7 642 504.4 C640.7 508.1 640.3 509.9 639.5 512 C638.7 514.1 638.1 515.4 637 517 C635.9 518.6 634.6 520.2 633 521.5 C631.4 522.8 628.3 524.2 627.4 524.8" stroke-width="1.3" />
<path d="M655 435 C655.8 435.8 658.9 438.2 659.8 440 C660.7 441.8 660.8 443.1 660.3 446 C659.8 448.9 657.8 453.3 656.5 457.3 C655.2 461.3 654.1 464.6 652.3 470 C650.5 475.4 647.5 484.3 645.5 490 C643.5 495.7 641.7 500.1 640 504.4 C638.3 508.7 637.6 512.8 635.5 516 C633.4 519.2 628.8 522.2 627.4 523.4" stroke-width="1.0" />
<ellipse cx="610.3" cy="487.6" rx="4.3" ry="6.9" transform="rotate(20 610.3 487.6)" stroke-width="1.3" fill="none" />
<path d="M610 481 L656.1 437.2" stroke-width="1.3" />
<path d="M614.5 487.5 L659 447.3" stroke-width="1.3" />
<path d="M613 493.5 L655 459" stroke-width="1.3" />
<path d="M608.8 495 L623.8 518.8" stroke-width="1.3" />
<path d="M611.5 494 L626 516.5" stroke-width="1.3" />
<path d="M623.8 518.8 C624.2 519.3 625.9 521 626.5 522 C627.1 523 627.3 524.5 627.5 525" stroke-width="1.3" />
<path d="M271.8 500 C274 502.7 280.5 510.7 285 516 C289.5 521.3 295.8 528.4 298.9 531.8 C302 535.2 301.8 535.4 303.6 536.6 C305.5 537.8 307.6 538.5 310 539 C312.4 539.5 316.7 539.7 318 539.8" stroke-width="1.3" />
<path d="M318 539.8 L391.2 543" stroke-width="1.3" />
<path d="M391.2 543 C392.8 543.5 397.8 544.4 400.7 546.1 C403.6 547.8 405.5 549.6 408.7 553.3 C411.9 557 417.1 564.9 419.8 568.4 C422.5 571.9 423 572.7 424.6 574 C426.2 575.3 427 575.7 429.6 576.3 C432.2 576.9 435.4 577.3 440 577.8 C444.6 578.3 451.3 578.9 457.3 579.1 C463.3 579.4 469.6 579.4 476 579.3 C482.4 579.1 489 578.9 495.5 578.2 C502 577.5 508.6 576.3 515 575 C521.4 573.7 527.4 572.2 533.7 570.5 C540 568.8 546.6 566.7 553 564.5 C559.4 562.3 566.3 559.6 571.8 557.2 C577.3 554.8 581.2 552.5 586 550 C590.8 547.5 596.2 544.7 600.5 541.9 C604.8 539.1 608.8 535.9 612 533 C615.2 530.1 617.8 526.9 620 524.5 C622.2 522.1 624.2 519.8 625 518.8" stroke-width="1.3" />
<path d="M292 530 C293.3 531.8 297.5 538.1 299.7 540.6 C301.9 543.1 303.2 544.1 305.2 545.3 C307.2 546.5 309.5 547.1 311.6 547.7 C313.7 548.3 316.9 548.8 318 549" stroke-width="1.3" />
<path d="M318 549 L390.4 552.5" stroke-width="1.3" />
<path d="M390.4 552.5 C391.6 552.9 395.2 553.4 397.5 554.9 C399.8 556.4 401 557.7 403.9 561.3 C406.8 564.9 412.4 572.8 415 576.4 C417.6 580 417.5 581 419.8 582.7 C422.1 584.4 425.2 585.9 428.6 586.8 C432 587.6 435.2 587.5 440 587.8 C444.8 588.1 451.3 588.6 457.3 588.7 C463.3 588.8 469.6 588.8 476 588.5 C482.4 588.2 489 587.6 495.5 586.8 C502 586 508.6 584.8 515 583.5 C521.4 582.2 527.4 580.9 533.7 579.1 C540 577.4 546.6 575.2 553 573 C559.4 570.8 566.3 568.1 571.8 565.8 C577.3 563.5 581.2 561.4 586 559 C590.8 556.6 596.7 553.6 600.5 551.5 C604.3 549.4 606.5 548.1 609 546.5 C611.5 544.9 613.6 544 615.8 541.9 C618 539.8 621 535.3 622 534" stroke-width="1.3" />
<path d="M261.5 500 C264.6 504.7 273.8 519.2 280 528 C286.2 536.8 295 547.6 298.9 552.5 C302.8 557.4 301.8 556 303.6 557.3 C305.5 558.6 307.9 559.4 310 560.1 C312.1 560.8 315.3 561.1 316.4 561.3" stroke-width="1.3" />
<path d="M316.4 561.3 L388 564.4" stroke-width="1.3" />
<path d="M388 564.4 C389.3 564.9 393.7 566 395.9 567.6 C398.1 569.2 398.1 570.1 401 574 C403.9 577.9 410.5 587 413.4 590.7 C416.3 594.4 416.3 595 418.2 596.3 C420.1 597.5 421.2 597.6 424.8 598.2 C428.4 598.9 434.6 599.7 440 600.2 C445.4 600.7 451.3 601.1 457.3 601.1 C463.3 601.1 469.6 601 476 600.5 C482.4 600 489 599.3 495.5 598.2 C502 597.1 508.6 595.6 515 594 C521.4 592.4 527.4 590.8 533.7 588.7 C540 586.6 546.6 584 553 581.5 C559.4 579 566.3 576 571.8 573.4 C577.3 570.8 581.2 568.5 586 566 C590.8 563.5 596.3 560.5 600.5 558.1 C604.7 555.7 607.8 553.6 611 551.5 C614.2 549.4 617.7 547.5 619.6 545.7 C621.5 544 622 541.8 622.5 541" stroke-width="1.3" />
<path d="M318 539.8 C317.7 543.4 317.2 554.7 316.4 561.3 C315.6 567.9 314.5 570.7 313.2 579.6 C311.9 588.5 309.2 608.8 308.4 614.6" stroke-width="1.0" />
<path d="M298.9 552.5 C298.4 557.1 297.1 570.7 296 580 C294.9 589.3 293.1 603.5 292.5 608.2" stroke-width="1.0" />
<path d="M391.2 543 L388 564.4" stroke-width="1.0" />
<path d="M388 564.4 C387.7 565.7 386.7 569.4 386 572 C385.3 574.6 384.3 578.7 384 580" stroke-width="1.0" />
<path d="M408.7 553.3 C407.9 554.6 405.2 557.8 403.9 561.3 C402.6 564.8 401.5 571.9 401 574" stroke-width="1.0" />
<path d="M431 576.4 C430.4 578 428.5 582.2 427.7 585.9 C426.9 589.6 427.5 590.8 426.2 598.6 C424.9 606.5 420.9 627.3 419.8 633" stroke-width="1.0" />
<path d="M419.8 568.4 C419 569.7 416.1 572.7 415 576.4 C413.9 580.1 414.2 581.9 413.4 590.7 C412.6 599.5 410.6 622.6 410 629" stroke-width="1.0" />
<path d="M255.9 447 C255.3 449.5 253.2 457.8 252.5 462 C251.8 466.2 251.9 468.7 251.9 472.5 C251.9 476.3 252.1 480.4 252.5 485 C252.9 489.6 252.9 492.2 254.3 500 C255.7 507.8 258.3 521.2 260.7 531.8 C263.1 542.4 266 554 268.6 563.6 C271.2 573.2 274.5 583.5 276.6 589.1 C278.7 594.7 278.8 593.8 281.4 597 C284 600.2 289.3 605.5 292.5 608.2 C295.7 610.9 297.9 611.9 300.5 613 C303.1 614.1 307.1 614.6 308.4 614.9" stroke-width="1.3" />
<path d="M308.4 614.9 C312.9 614.7 325.7 614.5 335.5 613.8 C345.3 613.1 360.2 611.4 367.3 610.6 C374.4 609.8 376.5 609.3 378.4 609" stroke-width="1.3" />
<path d="M256.7 500 C257.8 505.3 260.6 521.2 263 531.8 C265.4 542.4 268.2 554.2 271 563.6 C273.8 573 275.8 581.2 279.5 588 C283.2 594.8 289.6 600.8 293.5 604.5 C297.4 608.2 300.5 609.2 303 610.5 C305.5 611.8 302.2 612.1 308.4 612.2 C314.6 612.3 330.2 611.7 340 611 C349.8 610.3 362.8 608.7 367.3 608.2" stroke-width="1.0" />
<path d="M395 616 C396.2 617.3 399.5 621.7 402 624 C404.5 626.3 407.3 628.4 410 630 C412.7 631.6 413.6 633.2 418.1 633.6 C422.6 634 430.5 632.9 437 632.3 C443.5 631.7 450.8 630.8 457.3 629.8 C463.8 628.8 469.6 627.6 476 626.3 C482.4 625 489 623.6 495.5 622.1 C502 620.6 508.6 618.8 515 617 C521.4 615.2 527.4 613.7 533.7 611.6 C540 609.5 546.6 607 553 604.5 C559.4 602 566.3 598.9 571.8 596.4 C577.3 593.9 581.2 592.1 586 589.8 C590.8 587.5 596.8 584.7 600.5 582.7 C604.2 580.7 606.1 579.4 608 578 C609.9 576.6 610.7 576.3 612 574.4 C613.3 572.5 614.6 569.9 615.8 566.7 C617 563.5 618 558.8 619 555 C620 551.2 620.1 548.8 621.5 543.8 C622.9 538.8 626.4 528 627.4 524.8" stroke-width="1.3" />
<path d="M420 631.2 C422.8 631 430.8 630.6 437 630 C443.2 629.4 450.8 628.4 457.3 627.4 C463.8 626.4 469.6 625.3 476 624 C482.4 622.7 489 621.3 495.5 619.7 C502 618.1 508.6 616.4 515 614.6 C521.4 612.9 527.4 611.3 533.7 609.2 C540 607.1 546.6 604.5 553 602 C559.4 599.5 566.3 596.5 571.8 594 C577.3 591.5 581.2 589.6 586 587.3 C590.8 585 597 582 600.5 580 C604 578 605.9 576.2 607 575.5" stroke-width="1.0" />
<path d="M256 448 L258.3 455" stroke-width="1.0" />
<path d="M258.3 455 L254.5 500" stroke-width="1.0" />
<path d="M258.5 490.5 C259.1 492.4 259.8 500.4 262 502 C264.2 503.6 270.2 500.3 271.8 500" stroke-width="0.01" />
<path d="M259.5 490.8 L271 563.6" stroke-width="1.0" />
<path d="M260.7 494.8 L290.9 541" stroke-width="1.0" />
<path d="M262.5 491 L299.5 540" stroke-width="0.9" />
<path d="M258.3 455 C259.2 456.6 261.6 460.9 263.9 464.6 C266.1 468.3 268.9 472 271.8 477.3 C274.7 482.6 278.2 490.3 281.4 496.4 C284.6 502.5 287.7 509.4 290.9 513.9 C294.1 518.4 297.9 521.3 300.5 523.4 C303.1 525.5 305.3 526.4 306.8 526.6 C308.3 526.8 309.1 525.8 309.5 524.5 C309.9 523.2 310.2 522.1 309.2 519 C308.2 515.9 306.4 512.3 303.6 505.9 C300.8 499.5 295.7 487.6 292.5 480.5 C289.3 473.4 287.4 467.4 284.6 463 C281.8 458.6 277.3 455.3 275.8 453.8" stroke-width="1.3" />
<path d="M263.7 460.5 C264.2 460 265.7 458.3 267 457.5 C268.3 456.7 269.6 456.1 271.5 455.7 C273.4 455.3 277.4 455.1 278.6 455" stroke-width="1.2" />
<path d="M268.4 470.7 C268.9 470.2 270.3 468.4 271.5 467.5 C272.7 466.6 273.5 465.8 275.5 465.2 C277.5 464.6 282.1 463.9 283.4 463.6" stroke-width="1.2" />
<path d="M273.9 481 C274.4 480.6 275.8 479.2 277 478.5 C278.2 477.8 279 477.6 281 477 C283 476.4 287.6 475.1 288.9 474.7" stroke-width="1.2" />
<path d="M263.9 464.6 C264.6 467.2 266 474.6 268 480 C270 485.4 272.7 491.2 276 497 C279.3 502.8 284 510.4 288 515 C292 519.6 298 522.9 300 524.5" stroke-width="1.0" />
<ellipse cx="258.5" cy="483.6" rx="3.3" ry="7" transform="rotate(-8 258.5 483.6)" stroke-width="1.3" fill="none" />
<ellipse cx="258.8" cy="483.6" rx="1.6" ry="4.6" transform="rotate(-8 258.8 483.6)" stroke-width="1.0" fill="none" />
<path d="M256 480 L261.5 479" stroke-width="0.9" />
<path d="M256 484 L261.5 483" stroke-width="0.9" />
<path d="M256.3 488 L261.3 487" stroke-width="0.9" />
<path d="M240 486 L270.2 475.7" stroke-width="0.7" />
<path d="M210.5 497 L226 491.2" stroke-width="0.8" />
<path d="M230 489.7 L240 486" stroke-width="0.8" />
<path d="M289.3 462.2 L308.4 456.3 L327.5 483.6 L310 490 Z" stroke-width="1.5" />
<path d="M291.1 464.6 L307.3 459.6 L324.6 484.5" stroke-width="1.1" />
<path d="M308.4 456.3 L307.3 459.6" stroke-width="0.9" />
<path d="M316.4 445.5 L335.5 440.4 L354.6 467.7 L336.3 474.9 Z" stroke-width="1.5" />
<path d="M318.1 448 L334.3 443.7 L351.7 468.5" stroke-width="1.1" />
<path d="M335.5 440.4 L334.3 443.7" stroke-width="0.9" />
<path d="M342.9 431.5 L363.4 425.4 L381 454.5 L362.2 460.5 Z" stroke-width="1.5" />
<path d="M344.6 434 L362.2 428.8 L378.1 455.4" stroke-width="1.1" />
<path d="M363.4 425.4 L362.2 428.8" stroke-width="0.9" />
<path d="M366 438 L379 455.3" stroke-width="2.0" />
<path d="M361.6 490.1 L396.1 480.5 L407.6 496.2 L371.9 506.5 Z" stroke-width="1.5" />
<path d="M364.5 492.8 L393.7 484.3 L404.6 497" stroke-width="1.1" />
<path d="M363.3 491.5 L370 505.5" stroke-width="0.9" />
<path d="M379.2 489 L382.8 501" stroke-width="0.9" />
<path d="M396.1 480.5 L393.7 484.3" stroke-width="0.9" />
<path d="M314.8 500.4 L337.1 494 L360.1 527.4 L337.1 534.9 Z" stroke-width="1.0" />
<path d="M314.8 500.4 L337.1 534.9 L360.1 527.4" stroke-width="2.0" />
<path d="M375.3 399.6 L466.8 373 L470 374.3 L490.6 410.2 L489.6 414.5 L400.1 441 L395.1 440.2 L373 403.8 Z" stroke-width="1.3" />
<path d="M378.6 401.6 L466.7 377.2 L487.5 408.7 L398.7 431.6 Z" stroke-width="2.2" />
<path d="M396 435.5 L490 410.8" stroke-width="1.3" />
<path d="M374.5 404 L396 435.5 L397 440.5" stroke-width="1.0" />
<path d="M394.8 401.4 L402.4 399.2 L404.8 404.6 L397.2 406.8 Z" stroke-width="1.2" />
<path d="M385.8 408.9 L393.4 406.7 L395.8 412.1 L388.2 414.3 Z" stroke-width="1.2" />
<path d="M401.5 412.2 L409.1 410 L411.5 415.4 L403.9 417.6 Z" stroke-width="1.2" />
<path d="M393 419.3 L400.6 417.1 L403 422.5 L395.4 424.7 Z" stroke-width="1.2" />
<path d="M422.3 418.8 C420.9 416.6 414.4 409.1 413.7 405.9 C413 402.7 415.7 401.3 418 399.5 C420.3 397.7 424.1 395.8 427.3 395.1 C430.5 394.4 434.2 394.3 437.3 395.1 C440.4 395.9 443.4 397.7 445.9 400.1 C448.4 402.6 451.3 408.2 452.4 409.8" stroke-width="1.3" />
<path d="M422.3 418.8 L452.4 410.2" stroke-width="1.3" />
<path d="M446.2 387.5 L452.8 385.6 L456.8 391.5 L450.2 393.5 Z" stroke-width="1.1" />
<path d="M467.2 398.3 L474.5 396.2 L478.5 402.3 L471.3 404.4 Z" stroke-width="1.1" />
<ellipse cx="534.4" cy="375.9" rx="13.3" ry="10.6" transform="rotate(-6 534.4 375.9)" stroke-width="1.6" fill="none" />
<ellipse cx="534.6" cy="375" rx="11" ry="8" transform="rotate(-6 534.6 375)" stroke-width="1.3" fill="none" />
<path d="M521 373 C520.2 374.5 517.5 379.5 516.5 382 C515.5 384.5 515.1 386 515 388 C514.9 390 515.4 392.2 516 394 C516.6 395.8 518.3 398.2 518.8 399" stroke-width="1.5" />
<path d="M518.8 399 C519.7 399.5 521.7 401.3 524 402 C526.3 402.7 530.3 403.3 532.6 403.3 C534.9 403.3 536.5 402.7 538 402 C539.5 401.3 540.7 400.1 541.8 399 C542.9 397.9 543.7 396.7 544.5 395.5 C545.3 394.3 546.1 392.4 546.4 391.8" stroke-width="1.5" />
<path d="M546.4 391.8 L547.6 379" stroke-width="1.5" />
<path d="M524.8 401 L527.5 392.7 L529.4 392.2 L528.5 401.5" stroke-width="1.3" />
<path d="M518.8 399.6 L529.8 402" stroke-width="2.4" />
<path d="M523.5 409.5 C524.5 410.1 527.4 412.1 529.5 412.8 C531.6 413.6 534.9 413.8 536 414" stroke-width="1.3" />
<path d="M540.5 410.5 L542.3 404.3" stroke-width="1.3" />
<path d="M565.2 378.7 L586.6 412.3 L610.3 405.2" stroke-width="2.4" />
<path d="M565.2 378.7 L587.4 372.2 L606 399.5" stroke-width="1.0" />
<path d="M589.5 373 L608.5 401.5" stroke-width="1.0" />
<path d="M526.5 422.9 C527.2 424.6 528.5 428.5 530.8 432.9 C533 437.2 537 443.8 540 449 C543 454.2 547.2 461.8 548.7 464.4" stroke-width="1.5" />
<path d="M526.5 422.9 L548 417 L550.8 417.3" stroke-width="1.3" />
<path d="M550.8 417.3 C551.3 417.8 552.5 418.4 554 420 C555.5 421.6 557.9 423.5 560.1 427.2 C562.3 430.9 564.9 437.2 567 442 C569.1 446.8 572 453.5 573 455.8" stroke-width="1.3" />
<path d="M525.8 430 C527.3 433 531.5 442.4 535 448 C538.5 453.6 544.6 460.9 546.5 463.5" stroke-width="1.0" />
<path d="M524.5 427 L526.5 422.9" stroke-width="1.0" />
<path d="M546.5 463.5 L553.7 462.3" stroke-width="1.0" />
<path d="M537.9 425 L549.4 422.2 L554.4 430.8 L543 434.4 Z" style="fill:none;stroke:#000;stroke-width:2.0"/>
<path d="M541.5 427.3 L549 425.5 L551 429.5 L543.8 431.5 Z" stroke-width="1.6" />
<path d="M570.9 434.4 C572 435.8 574.8 438.9 577.3 443 C579.8 447.1 583 453.4 586 459 C589 464.6 593.7 473.7 595.2 476.6" stroke-width="1.5" />
<path d="M570.9 434.4 L591 428.2 L594.5 428.6" stroke-width="1.3" />
<path d="M594.5 428.6 C595.1 429.3 596.4 430.4 598 433 C599.6 435.6 600.8 438.1 604 444 C607.2 449.9 615.2 464.6 617.4 468.7" stroke-width="1.3" />
<path d="M595.2 476.6 L617.4 468.7" stroke-width="1.3" />
<path d="M570.2 442.2 C571.8 444.8 576.4 452.6 580 458 C583.6 463.4 589.7 471.8 591.6 474.5" stroke-width="1.0" />
<path d="M568.5 438.5 L570.9 434.4" stroke-width="1.0" />
<path d="M583 435.1 L594.5 432.2 L598.1 440.1 L586.6 443 Z" style="fill:#111;stroke:#000;stroke-width:1.8"/>
<path d="M587.3 436.7 L588.7 439.8 M592.4 435.4 L593.8 438.5 M586.8 438.6 L594.3 436.6" style="stroke:#fff;stroke-width:1.0;fill:none"/>
<path d="M593.8 458 L605.3 455.1 L608.8 464.4 L597.4 468 Z" style="fill:#111;stroke:#000;stroke-width:1.8"/>
<path d="M598.1 460 L599.5 464 M603.1 458.7 L604.6 462.7 M597.5 462.3 L605.1 460.4" style="stroke:#fff;stroke-width:1.0;fill:none"/>
<path d="M593.8 412.2 C594.9 414 597.8 418.6 600.2 422.9 C602.6 427.2 605.1 432.8 608 438 C610.9 443.2 615.8 451.7 617.4 454.4" stroke-width="1.5" />
<path d="M593.8 412.2 L612 406.2 L616.5 406" stroke-width="1.3" />
<path d="M616.5 406 C617.1 406.4 618.9 407.4 620 408.5 C621.1 409.6 621.4 409.5 623.2 412.9 C625 416.3 628.3 423.1 631 429 C633.7 434.9 638.2 444.8 639.6 448" stroke-width="1.3" />
<path d="M617.4 454.4 L639.6 448" stroke-width="1.3" />
<path d="M593.1 421.5 C594.8 424.2 599.4 432.8 603 438 C606.6 443.2 612.6 450.5 614.5 453" stroke-width="1.0" />
<path d="M591.5 416.5 L593.8 412.2" stroke-width="1.0" />
<path d="M614.6 438.7 L631 435.1 L634.6 444.4 L618.1 448 Z" style="fill:#111;stroke:#000;stroke-width:1.8"/>
<path d="M620.3 440.5 L621.7 444.2 M627.5 438.9 L628.9 442.6 M619.2 442.7 L630 440.4" style="stroke:#fff;stroke-width:1.0;fill:none"/>
<path d="M620.5 409 L637 446" stroke-width="1.0" />
<ellipse cx="610.3" cy="413.6" rx="1.7" ry="1.9" transform="rotate(0 610.3 413.6)" stroke-width="1.1" fill="none" />
<path d="M613.5 416 L617 418.3 L620.5 423 L618 422.3 L615 420.3 L613.3 424.8 L611 424.3 L612.2 420.5 L609.8 422.8 L609.3 420 L611.5 417 Z" style="fill:#000;stroke:#000;stroke-width:0.8"/>
<path d="M553.7 462.3 C554.8 464.3 557.7 470.1 560.1 474.5 C562.5 478.9 565.1 483.8 568 489 C570.9 494.2 575.8 503.2 577.3 506" stroke-width="1.5" />
<path d="M553.7 462.3 L573 456.8 L576.8 457" stroke-width="1.3" />
<path d="M576.8 457 C577.4 457.8 579 459.1 580.5 461.5 C582 463.9 583.8 467.7 585.9 471.6 C588 475.5 590.6 480.5 593 485 C595.4 489.5 599 496.5 600.2 498.8" stroke-width="1.3" />
<path d="M577.3 506 L600.2 498.8" stroke-width="1.8" />
<path d="M553 470.9 C554.5 473.6 558.4 481.6 562 487 C565.6 492.4 572.4 500.4 574.5 503.1" stroke-width="1.0" />
<path d="M551.5 466.5 L553.7 462.3" stroke-width="1.0" />
<path d="M564.4 463 L578 460.1 L582.3 468.7 L568.7 473 Z" style="fill:#111;stroke:#000;stroke-width:1.8"/>
<path d="M569.5 464.8 L571.2 468.8 M575.5 463.6 L577.2 467.6 M568.9 467.2 L577.8 465.2" style="stroke:#fff;stroke-width:1.0;fill:none"/>
<path d="M575.9 488.1 L589.5 485.2 L593.1 494.5 L579.5 498.1 Z" style="fill:#111;stroke:#000;stroke-width:1.8"/>
<path d="M580.8 490.1 L582.2 494.1 M586.8 488.8 L588.2 492.8 M580 492.4 L589 490.5" style="stroke:#fff;stroke-width:1.0;fill:none"/>
<path d="M586 472.5 L598.5 498.5" stroke-width="1.0" />
<path d="M600.2 498.8 C601 498.6 603.6 498.2 605 497.5 C606.4 496.8 607.9 495 608.5 494.5" stroke-width="1.6" />
<path d="M603.1 495.2 L612.5 488.2 L613.8 490.8 Z" style="fill:#000;stroke:#000;stroke-width:1"/>
<path d="M613 492.5 L618 489.5 L619.5 492 L622 491" stroke-width="0.9" />
<path d="M401.6 508 C402.7 509.8 405.6 514.5 408 519 C410.4 523.5 413.4 529.8 416 535 C418.6 540.2 422.6 547.6 423.9 550.1" stroke-width="1.5" />
<path d="M401.6 508 L419 502.8 L423 502.3" stroke-width="1.3" />
<path d="M423 502.3 C423.7 502.8 425.5 503.6 427 505.5 C428.5 507.4 429.8 509.9 432 514 C434.2 518.1 437.5 525 440 530 C442.5 535 445.8 541.5 446.9 543.8" stroke-width="1.3" />
<path d="M423.9 550.1 L446.9 543.8" stroke-width="1.8" />
<path d="M400 515.5 C401.5 518.2 405.6 526.5 409 532 C412.4 537.5 418.6 545.8 420.5 548.5" stroke-width="1.0" />
<path d="M399 512 L401.6 508" stroke-width="1.0" />
<path d="M416.6 515 L424.8 512.8 L427 518.3 L418.8 520.8 Z" stroke-width="1.2" />
<ellipse cx="428.5" cy="533" rx="4.3" ry="3.8" transform="rotate(-15 428.5 533)" stroke-width="1.0" fill="#000" style="fill:#000"/>
<ellipse cx="428.7" cy="533" rx="1.6" ry="1.3" transform="rotate(-15 428.7 533)" stroke-width="0.8" fill="none" style="stroke:#777"/>
<path d="M452.5 522.3 C451.2 521.8 448.1 521.8 444.6 519.1 C441.2 516.5 435.8 511.2 431.8 506.4 C427.8 501.6 423.4 494.5 420.7 490.5 C418 486.5 416.8 484.9 415.9 482.5 C415 480.1 414.8 478.8 415.1 476.1 C415.4 473.5 416 469.1 417.5 466.6 C419 464.1 421.8 462.3 423.9 461 C426 459.7 429.1 459 430.2 458.6" stroke-width="1.3" />
<path d="M430.2 458.6 L488.3 441.9" stroke-width="1.3" />
<path d="M488.3 441.9 C489.5 441.6 492.2 440.3 495.5 440.3 C498.8 440.3 504 440.4 508.2 441.9 C512.4 443.4 517.2 446.6 520.9 449.1 C524.6 451.6 527.3 453.3 530.5 457 C533.7 460.7 537.4 466.9 540 471.4 C542.6 475.9 545.1 481 546.4 484.1 C547.6 487.2 547.5 488 547.5 490 C547.5 492 546.6 495 546.4 496" stroke-width="1.3" />
<path d="M424 492 C423.3 489.6 420.1 481.3 419.9 477.7 C419.6 474.1 421.2 472.5 422.5 470.5 C423.8 468.5 426.2 466.9 427.8 465.8 C429.4 464.8 431.1 464.5 431.8 464.2" stroke-width="1.3" />
<path d="M431.8 464.2 L489.1 447.5" stroke-width="1.3" />
<path d="M489.1 447.5 C490.7 447.2 494.9 445.6 498.6 445.9 C502.3 446.2 507.4 447 511.4 449.1 C515.4 451.2 519 454.6 522.5 458.6 C526 462.6 529.5 468.8 532.1 473 C534.7 477.2 536.3 480.4 538 484 C539.7 487.6 541.7 492.7 542.4 494.4" stroke-width="1.3" />
<path d="M424.7 489.7 L433.4 484.1 L491.5 466.6" stroke-width="1.3" />
<path d="M491.5 466.6 C493.8 466.5 500.9 465.3 505 465.8 C509.1 466.3 513.2 468.3 516.1 469.8 C519 471.3 521.4 473.8 522.5 474.6" stroke-width="1.3" />
<path d="M426 492.5 L434.5 486.8 L492.3 469.8" stroke-width="1.0" />
<path d="M492.3 469.8 C494.2 469.7 500.4 468.6 504 469 C507.6 469.4 511.2 470.7 514 472 C516.8 473.3 519.8 476 521 476.8" stroke-width="1.0" />
<path d="M522.5 474.6 L542.4 494.4" stroke-width="1.3" />
<path d="M424.7 489.7 L454.1 521.5" stroke-width="1.3" />
<path d="M427 495 L452.5 522.3" stroke-width="1.0" />
<path d="M488.3 439.5 C488.1 441.6 486.9 448.2 487 452 C487.1 455.8 488.1 459 489 462 C489.9 465 491.8 468.5 492.3 469.8" stroke-width="1.0" />
<path d="M490.5 441.5 C490.4 443.2 489.7 448.8 489.8 452 C489.9 455.2 490.6 458.2 491.3 461 C492 463.8 493.6 467.7 494 469" stroke-width="1.0" />
<path d="M430.2 458.6 L433 472 L434.2 485.7" stroke-width="1.0" />
<path d="M522.5 458.6 L529 454.5" stroke-width="1.0" />
<path d="M533.5 476 L540 471.4" stroke-width="1.0" />
<path d="M516.1 469.8 C516.8 468.5 518.9 463.9 520 462 C521.1 460.1 522.1 459.2 522.5 458.6" stroke-width="1.0" />
<path d="M452.5 522.3 C452.5 523.1 452.2 525.4 452.3 527 C452.4 528.6 452.8 530.1 453.3 531.8 C453.8 533.5 454.6 535.4 455.5 537 C456.4 538.6 457.5 540.1 458.9 541.4 C460.3 542.6 462.1 543.7 464 544.5 C465.9 545.3 464.8 545.8 470 546.2 C475.2 546.6 488.7 547.3 495.5 547 C502.3 546.7 505.7 545.7 511 544.5 C516.3 543.3 522.5 541.6 527.3 539.8 C532.1 538 536 535.9 540 533.5 C544 531.1 548.4 527.7 551.2 525.5 C554 523.3 555.4 522.1 557 520.5 C558.6 518.9 559.8 517.3 560.7 515.9 C561.6 514.5 562.2 513 562.5 512 C562.8 510.9 562.6 510.6 562.3 509.6 C562 508.6 561.3 507.1 560.5 506 C559.7 504.9 558.9 504.4 557.5 503.2 C556.1 502 553.9 500.2 552 499 C550.1 497.8 548 496.8 546.4 496 C544.8 495.2 543.1 494.7 542.4 494.4" stroke-width="1.3" />
<path d="M454.1 521.5 C454.8 522.2 456.4 524.7 458 526 C459.6 527.3 461.3 528.4 463.6 529.4 C465.9 530.4 466.3 531.7 471.6 531.8 C476.9 531.9 488.9 531.1 495.5 530.2 C502.1 529.3 505.7 528.1 511 526.5 C516.3 524.9 521.9 523 527.3 520.7 C532.7 518.4 539 515.1 543.2 512.7 C547.4 510.3 550.7 507.8 552.7 506.4 C554.7 504.9 554.6 504.4 555 504" stroke-width="1.3" />
<path d="M458.9 541.4 C459.6 541.2 461.1 540.3 463 540 C464.9 539.7 464.6 540 470 539.8 C475.4 539.6 488.7 539.7 495.5 539 C502.3 538.3 505.7 537 511 535.5 C516.3 534 522.5 532 527.3 530.2 C532.1 528.4 536 526.6 540 524.5 C544 522.4 548.1 519.8 551.2 517.5 C554.3 515.2 557.3 512.1 558.5 511" stroke-width="1.3" />
<path d="M454.1 521.5 C454 522.4 453.4 525.1 453.5 527 C453.6 528.9 454.1 530.6 455 533 C455.9 535.4 458.2 540 458.9 541.4" stroke-width="1.0" />
<path d="M463.6 529.4 C463.2 530.3 461.6 533.3 461 535 C460.4 536.7 460.2 538.8 460 539.5" stroke-width="1.0" />
<path d="M470.5 531.8 L470 546.2" stroke-width="1.0" />
<path d="M546.4 496 C547.2 496.7 549.3 498.2 551 500 C552.7 501.8 555.2 505.2 556.5 507 C557.8 508.8 558.1 509.5 558.5 511 C558.9 512.5 558.9 515.2 559 516" stroke-width="1.0" />
<path d="M542.4 494.4 C543.5 495.1 546.9 496.9 549 498.5 C551.1 500.1 554 503.1 555 504" stroke-width="2.0" />
<ellipse cx="484.3" cy="496" rx="25.5" ry="12.6" transform="rotate(-3 484.3 496)" stroke-width="1.4" fill="none" />
<path d="M461.5 494 C462.9 493.1 466.9 489.9 470 488.5 C473.1 487.1 476.7 486.3 480 485.8 C483.3 485.3 488.3 485.6 490 485.5" stroke-width="1.8" />
<path d="M468.5 505 C470.1 504.5 474.8 502.6 478 502 C481.2 501.4 484.8 501.3 488 501.5 C491.2 501.7 494.5 502.3 497 503 C499.5 503.7 502 505.1 503 505.5" stroke-width="1.2" />
<ellipse cx="495.5" cy="493.3" rx="6" ry="3.2" transform="rotate(-5 495.5 493.3)" stroke-width="1.2" fill="none" />
<text class="wm" font-size="120.6" transform="translate(100 601) rotate(-19)">www.sinhron-too.kz</text>
</svg>
</body></html>
